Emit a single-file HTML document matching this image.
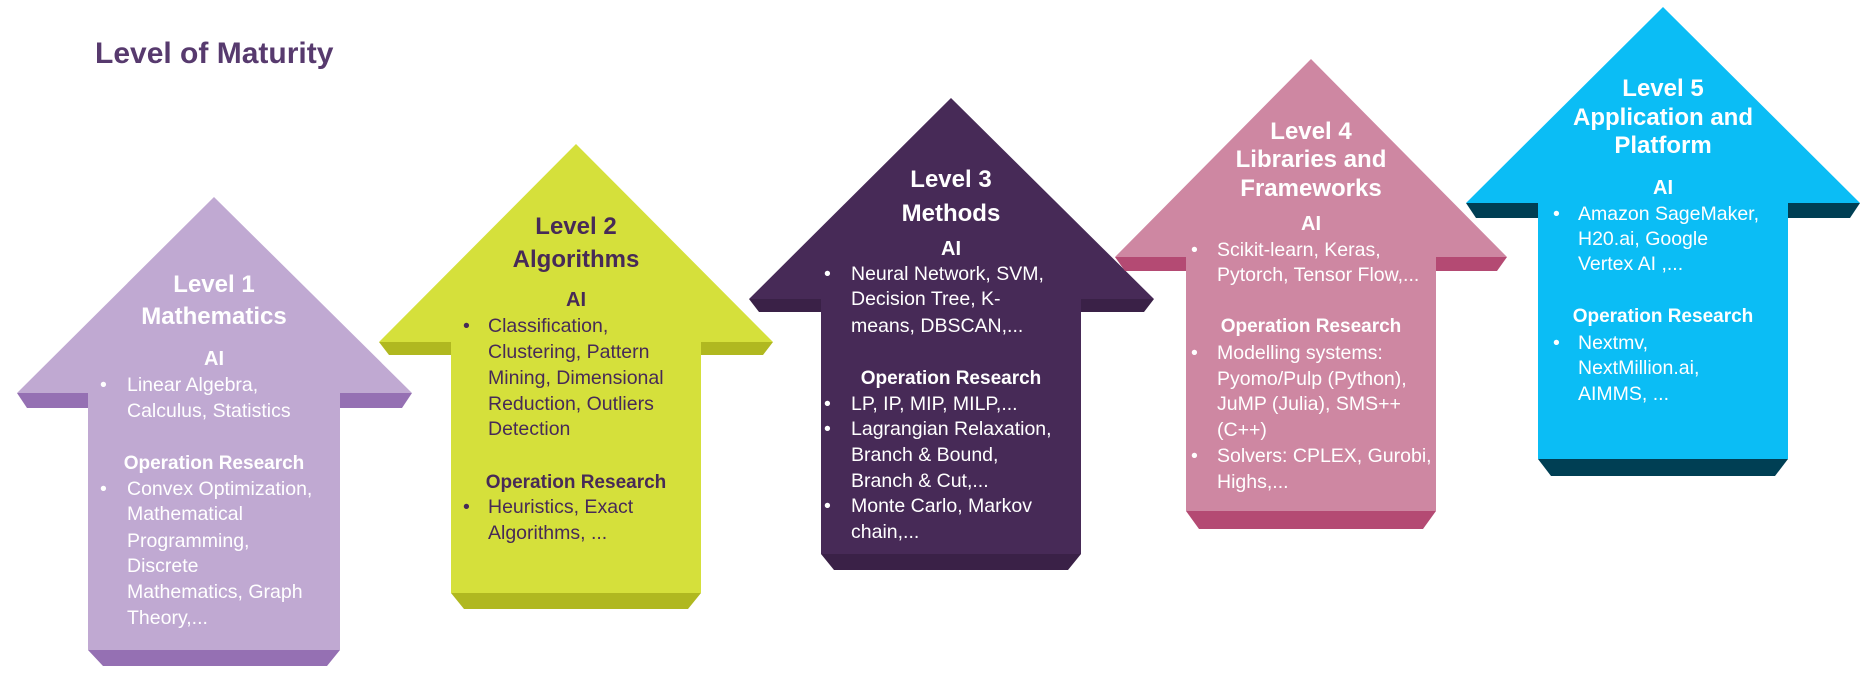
<!DOCTYPE html>
<html><head><meta charset="utf-8"><style>
html,body{margin:0;padding:0;background:#fff;}
svg{display:block;}
text{font-family:"Liberation Sans",sans-serif;}
.h{font-size:24px;font-weight:bold;text-anchor:middle;}
.ai{font-size:20px;font-weight:bold;text-anchor:middle;}
.or{font-size:19px;font-weight:bold;text-anchor:middle;}
.b{font-size:19.5px;}
</style></head><body>
<svg width="1873" height="685" viewBox="0 0 1873 685" xmlns="http://www.w3.org/2000/svg">
<text x="95" y="63" font-size="30" font-weight="bold" fill="#573a6e">Level of Maturity</text>

<!-- Arrow 1 -->
<polygon points="17,393 88,393 88,408 27,408" fill="#9570b3"/>
<polygon points="340,393 412,393 402,408 340,408" fill="#9570b3"/>
<polygon points="88,650 340,650 327,666 103,666" fill="#9570b3"/>
<polygon points="214,197 412,393 340,393 340,650 88,650 88,393 17,393" fill="#c0a9d2"/>
<g fill="#fff">
<text class="h" x="214" y="292">Level 1</text>
<text class="h" x="214" y="324">Mathematics</text>
<text class="ai" x="214" y="365">AI</text>
<text class="b" x="100" y="391">•</text><text class="b" x="127" y="391">Linear Algebra,</text>
<text class="b" x="127" y="417">Calculus, Statistics</text>
<text class="or" x="214" y="469">Operation Research</text>
<text class="b" x="100" y="495">•</text><text class="b" x="127" y="495">Convex Optimization,</text>
<text class="b" x="127" y="520">Mathematical</text>
<text class="b" x="127" y="547">Programming,</text>
<text class="b" x="127" y="572">Discrete</text>
<text class="b" x="127" y="598">Mathematics, Graph</text>
<text class="b" x="127" y="624">Theory,...</text>
</g>

<!-- Arrow 2 -->
<polygon points="379,342 451,342 451,355 389,355" fill="#b0b820"/>
<polygon points="701,342 773,342 763,355 701,355" fill="#b0b820"/>
<polygon points="451,593 701,593 688,609 464,609" fill="#b0b820"/>
<polygon points="576,144 773,342 701,342 701,593 451,593 451,342 379,342" fill="#d5e03b"/>
<g fill="#472a57">
<text class="h" x="576" y="234">Level 2</text>
<text class="h" x="576" y="267">Algorithms</text>
<text class="ai" x="576" y="306">AI</text>
<text class="b" x="463" y="332">•</text><text class="b" x="488" y="332">Classification,</text>
<text class="b" x="488" y="358">Clustering, Pattern</text>
<text class="b" x="488" y="384">Mining, Dimensional</text>
<text class="b" x="488" y="410">Reduction, Outliers</text>
<text class="b" x="488" y="435">Detection</text>
<text class="or" x="576" y="488">Operation Research</text>
<text class="b" x="463" y="513">•</text><text class="b" x="488" y="513">Heuristics, Exact</text>
<text class="b" x="488" y="539">Algorithms, ...</text>
</g>

<!-- Arrow 3 -->
<polygon points="749,299 821,299 821,312 759,312" fill="#3a2147"/>
<polygon points="1081,299 1154,299 1144,312 1081,312" fill="#3a2147"/>
<polygon points="821,554 1081,554 1068,570 834,570" fill="#3a2147"/>
<polygon points="951,98 1154,299 1081,299 1081,554 821,554 821,299 749,299" fill="#472a57"/>
<g fill="#fff">
<text class="h" x="951" y="187">Level 3</text>
<text class="h" x="951" y="221">Methods</text>
<text class="ai" x="951" y="255">AI</text>
<text class="b" x="824" y="280">•</text><text class="b" x="851" y="280">Neural Network, SVM,</text>
<text class="b" x="851" y="305">Decision Tree, K-</text>
<text class="b" x="851" y="332">means, DBSCAN,...</text>
<text class="or" x="951" y="384">Operation Research</text>
<text class="b" x="824" y="410">•</text><text class="b" x="851" y="410">LP, IP, MIP, MILP,...</text>
<text class="b" x="824" y="435">•</text><text class="b" x="851" y="435">Lagrangian Relaxation,</text>
<text class="b" x="851" y="461">Branch &amp; Bound,</text>
<text class="b" x="851" y="487">Branch &amp; Cut,...</text>
<text class="b" x="824" y="512">•</text><text class="b" x="851" y="512">Monte Carlo, Markov</text>
<text class="b" x="851" y="538">chain,...</text>
</g>

<!-- Arrow 4 -->
<polygon points="1115,257 1186,257 1186,271 1125,271" fill="#b44a73"/>
<polygon points="1436,257 1507,257 1497,271 1436,271" fill="#b44a73"/>
<polygon points="1186,511 1436,511 1423,529 1199,529" fill="#b44a73"/>
<polygon points="1311,59 1507,257 1436,257 1436,511 1186,511 1186,257 1115,257" fill="#ce87a2"/>
<g fill="#fff">
<text class="h" x="1311" y="139">Level 4</text>
<text class="h" x="1311" y="167">Libraries and</text>
<text class="h" x="1311" y="196">Frameworks</text>
<text class="ai" x="1311" y="230">AI</text>
<text class="b" x="1191" y="256">•</text><text class="b" x="1217" y="256">Scikit-learn, Keras,</text>
<text class="b" x="1217" y="281">Pytorch, Tensor Flow,...</text>
<text class="or" x="1311" y="332">Operation Research</text>
<text class="b" x="1191" y="359">•</text><text class="b" x="1217" y="359">Modelling systems:</text>
<text class="b" x="1217" y="385">Pyomo/Pulp (Python),</text>
<text class="b" x="1217" y="410">JuMP (Julia), SMS++</text>
<text class="b" x="1217" y="436">(C++)</text>
<text class="b" x="1191" y="462">•</text><text class="b" x="1217" y="462">Solvers: CPLEX, Gurobi,</text>
<text class="b" x="1217" y="488">Highs,...</text>
</g>

<!-- Arrow 5 -->
<polygon points="1466,203 1538,203 1538,218 1476,218" fill="#003f54"/>
<polygon points="1788,203 1860,203 1850,218 1788,218" fill="#003f54"/>
<polygon points="1538,459 1788,459 1775,476 1551,476" fill="#003f54"/>
<polygon points="1663,7 1860,203 1788,203 1788,459 1538,459 1538,203 1466,203" fill="#0bbdf5"/>
<g fill="#fff">
<text class="h" x="1663" y="96">Level 5</text>
<text class="h" x="1663" y="125">Application and</text>
<text class="h" x="1663" y="153">Platform</text>
<text class="ai" x="1663" y="194">AI</text>
<text class="b" x="1553" y="220">•</text><text class="b" x="1578" y="220">Amazon SageMaker,</text>
<text class="b" x="1578" y="245">H20.ai, Google</text>
<text class="b" x="1578" y="270">Vertex AI ,...</text>
<text class="or" x="1663" y="322">Operation Research</text>
<text class="b" x="1553" y="349">•</text><text class="b" x="1578" y="349">Nextmv,</text>
<text class="b" x="1578" y="374">NextMillion.ai,</text>
<text class="b" x="1578" y="400">AIMMS, ...</text>
</g>
</svg>
</body></html>
